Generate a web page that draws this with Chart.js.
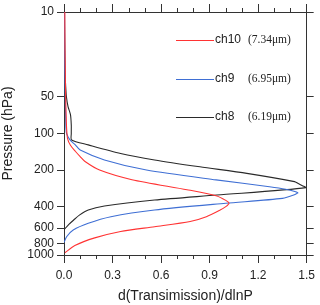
<!DOCTYPE html>
<html>
<head>
<meta charset="utf-8">
<script src="https://cdn.jsdelivr.net/npm/chart.js@4.4.0/dist/chart.umd.min.js"></script>
<style>
  html, body { margin: 0; padding: 0; background: #fff; }
</style>
</head>
<body>
<canvas id="profileChart" width="320" height="305"></canvas>
<script>
// channels / legend
const channels = ['ch10', 'ch9', 'ch8'];
const wavelengths = ['(7.34\u03bcm)', '(6.95\u03bcm)', '(6.19\u03bcm)'];

// weighting functions (pressure in hPa, value)
const ch10Pressure = [10, 20, 30, 50, 70, 90, 110, 125, 140, 155, 170, 200, 240, 290, 325, 355, 375, 400, 430, 484, 530, 585, 640, 723, 835, 957];
const ch10Value    = [0.005, 0.006, 0.008, 0.01, 0.013, 0.016, 0.022, 0.04, 0.07, 0.1, 0.13, 0.22, 0.42, 0.76, 0.94, 1.0, 1.02, 1.0, 0.96, 0.88, 0.78, 0.56, 0.35, 0.19, 0.067, 0.006];

const ch9Pressure = [10, 30, 50, 70, 90, 100, 113, 124, 137, 165, 200, 241, 274, 288, 307, 321, 342, 375, 426, 484, 548, 623, 707, 790];
const ch9Value    = [0.003, 0.005, 0.008, 0.01, 0.012, 0.016, 0.037, 0.07, 0.1, 0.25, 0.51, 0.94, 1.27, 1.37, 1.445, 1.42, 1.35, 1.0, 0.56, 0.29, 0.15, 0.057, 0.016, 0.0];

const ch8Pressure = [10, 30, 40, 50, 60, 70, 85, 100, 113, 124, 146, 165, 188, 213, 249, 257, 279, 321, 353, 395, 426, 470, 515, 560, 620];
const ch8Value    = [0.003, 0.006, 0.01, 0.015, 0.025, 0.04, 0.045, 0.045, 0.047, 0.15, 0.35, 0.56, 0.84, 1.13, 1.425, 1.445, 1.495, 0.945, 0.56, 0.25, 0.15, 0.095, 0.06, 0.03, 0.0];

// axis ticks
const xTickValues = [0, 0.3, 0.6, 0.9, 1.2, 1.5];
const xMinorValues = [0.1, 0.2, 0.4, 0.5, 0.7, 0.8, 1.0, 1.1, 1.3, 1.4];
const pressureTicks = [10, 50, 100, 200, 400, 600, 800, 1000];

const lineColors = ['#ff3333', '#3f6fd4', '#2a2a2a'];
const axisColor = '#333';
const textColor = '#222';

function toPoints(pressure, values) {
  return pressure.map((p, i) => ({ x: values[i], y: p }));
}

// short minor ticks on the top and bottom axes
const minorTicks = {
  id: 'minorTicks',
  afterDraw(chart) {
    const ctx = chart.ctx;
    const area = chart.chartArea;
    const sx = chart.scales.x;
    ctx.save();
    ctx.strokeStyle = axisColor;
    ctx.lineWidth = 1;
    xMinorValues.forEach(v => {
      const px = Math.round(sx.getPixelForValue(v)) + 0.5;
      ctx.beginPath();
      ctx.moveTo(px, area.bottom);
      ctx.lineTo(px, area.bottom + 4);
      ctx.moveTo(px, area.top);
      ctx.lineTo(px, area.top - 4);
      ctx.stroke();
    });
    ctx.restore();
  }
};

// legend in the upper right of the plot
const insideLegend = {
  id: 'insideLegend',
  afterDraw(chart) {
    const ctx = chart.ctx;
    const area = chart.chartArea;
    const rows = [40, 79, 117];
    ctx.save();
    channels.forEach((name, i) => {
      const y = rows[i];
      ctx.strokeStyle = lineColors[i];
      ctx.lineWidth = 1.1;
      ctx.beginPath();
      ctx.moveTo(area.left + 112, y + 0.5);
      ctx.lineTo(area.left + 150, y + 0.5);
      ctx.stroke();
      ctx.fillStyle = textColor;
      ctx.textBaseline = 'middle';
      ctx.font = '12px "Liberation Sans"';
      ctx.fillText(name, area.left + 151, y);
      ctx.font = '11.5px "Liberation Serif"';
      ctx.fillText(wavelengths[i], area.left + 184, y);
    });
    ctx.restore();
  }
};

const series = [
  [ch10Pressure, ch10Value],
  [ch9Pressure, ch9Value],
  [ch8Pressure, ch8Value]
];

new Chart(document.getElementById('profileChart'), {
  type: 'line',
  data: {
    datasets: series.map((s, i) => ({
      label: channels[i],
      data: toPoints(s[0], s[1]),
      borderColor: lineColors[i],
      borderWidth: 1.1,
      pointRadius: 0,
      tension: 0.25,
      fill: false
    }))
  },
  options: {
    responsive: false,
    animation: false,
    layout: { padding: 0 },
    plugins: { legend: { display: false }, tooltip: { enabled: false } },
    scales: {
      x: {
        type: 'linear', position: 'bottom', min: 0, max: 1.5,
        afterBuildTicks: s => { s.ticks = xTickValues.map(v => ({ value: v })); },
        afterFit: s => { s.height = 50; },
        ticks: { callback: v => v.toFixed(1), color: textColor, font: { family: 'Liberation Sans', size: 12 }, padding: 5, maxRotation: 0, autoSkip: false },
        grid: { drawOnChartArea: false, drawTicks: true, tickLength: 8, color: axisColor },
        border: { color: axisColor },
        title: { display: true, text: 'd(Transimission)/dlnP', color: textColor, font: { family: 'Liberation Sans', size: 14 }, padding: { top: 2, bottom: 0 } }
      },
      x2: {
        type: 'linear', position: 'top', min: 0, max: 1.5,
        afterBuildTicks: s => { s.ticks = xTickValues.map(v => ({ value: v })); },
        afterFit: s => { s.height = 12; },
        ticks: { callback: () => '', padding: 0 },
        grid: { drawOnChartArea: false, drawTicks: true, tickLength: 8, color: axisColor },
        border: { color: axisColor }
      },
      y: {
        type: 'logarithmic', position: 'left', reverse: true, min: 10, max: 1000,
        afterBuildTicks: s => { s.ticks = pressureTicks.map(v => ({ value: v })); },
        afterFit: s => { s.width = 64; },
        ticks: { callback: v => String(v), color: textColor, font: { family: 'Liberation Sans', size: 12 }, padding: 3, autoSkip: false },
        grid: { drawOnChartArea: false, drawTicks: true, tickLength: 7, color: axisColor },
        border: { color: axisColor },
        title: { display: true, text: 'Pressure (hPa)', color: textColor, font: { family: 'Liberation Sans', size: 14 }, padding: { top: 0, bottom: 0 } }
      },
      y2: {
        type: 'logarithmic', position: 'right', reverse: true, min: 10, max: 1000,
        afterBuildTicks: s => { s.ticks = pressureTicks.map(v => ({ value: v })); },
        afterFit: s => { s.width = 11; },
        ticks: { callback: () => '', padding: 0 },
        grid: { drawOnChartArea: false, drawTicks: true, tickLength: 7, color: axisColor },
        border: { color: axisColor }
      }
    }
  },
  plugins: [minorTicks, insideLegend]
});
</script>
</body>
</html>
